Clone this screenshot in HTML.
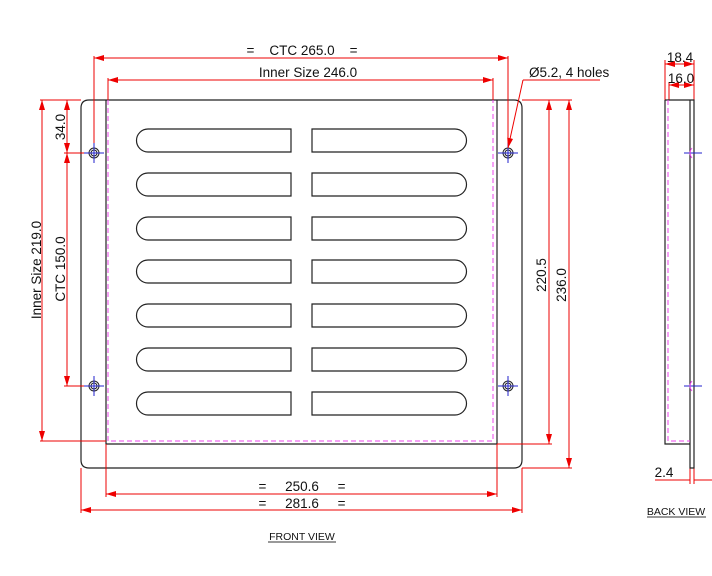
<!DOCTYPE html>
<html><head><meta charset="utf-8"><style>
html,body{margin:0;padding:0;background:#fff}
svg{display:block}
text{font-family:"Liberation Sans",sans-serif;font-size:13.5px;fill:#111}
</style></head><body>
<svg width="712" height="576" viewBox="0 0 712 576" xmlns="http://www.w3.org/2000/svg">
<defs>
<marker id="a" viewBox="0 0 10 6" refX="10" refY="3" markerWidth="10" markerHeight="6" orient="auto-start-reverse" markerUnits="userSpaceOnUse"><path d="M0,0 L10,3 L0,6z" fill="#e00"/></marker>
<g id="hole"><circle r="5" fill="none" stroke="#222" stroke-width="1"/><circle r="3" fill="none" stroke="#222" stroke-width="1"/><path d="M-10,0H10M0,-10V10" stroke="#22c" stroke-width="1"/></g>
<path id="ls" d="M148,0 H291 V23 H148 A11.5,11.5 0 0 1 148,0z" fill="none" stroke="#222" stroke-width="1.2"/>
<path id="rs" d="M312,0 H455 A11.5,11.5 0 0 1 455,23 H312z" fill="none" stroke="#222" stroke-width="1.2"/>
</defs>
<path d="M89,100 H514 Q522,100 522,108 V460 Q522,468 514,468 H89 Q81,468 81,460 V108 Q81,100 89,100z" fill="none" stroke="#222" stroke-width="1.2"/>
<path d="M106,100 V444 H497 V100" fill="none" stroke="#222" stroke-width="1.2"/>
<path d="M108,100 V441 H493 V100" fill="none" stroke="#e4e" stroke-width="1" stroke-dasharray="5,3"/>
<g>
<use href="#ls" y="129"/><use href="#rs" y="129"/>
<use href="#ls" y="173"/><use href="#rs" y="173"/>
<use href="#ls" y="217"/><use href="#rs" y="217"/>
<use href="#ls" y="260"/><use href="#rs" y="260"/>
<use href="#ls" y="304"/><use href="#rs" y="304"/>
<use href="#ls" y="348"/><use href="#rs" y="348"/>
<use href="#ls" y="392"/><use href="#rs" y="392"/>
</g>
<use href="#hole" x="94" y="153"/><use href="#hole" x="508" y="153"/>
<use href="#hole" x="94" y="386"/><use href="#hole" x="508" y="386"/>
<g stroke="#e00" stroke-width="1" fill="none">
<path d="M94,56 V143 M508,56 V143 M108,78 V100 M493,78 V100"/>
<path d="M94,58 H508" marker-start="url(#a)" marker-end="url(#a)"/>
<path d="M108,80 H493" marker-start="url(#a)" marker-end="url(#a)"/>
<path d="M523,80 H600"/><path d="M523,80 L508,148" marker-end="url(#a)"/>
<path d="M40,100 H81 M64,153 H84 M64,386 H84 M40,441 H106"/>
<path d="M42,100 V441" marker-start="url(#a)" marker-end="url(#a)"/>
<path d="M67,100 V153" marker-start="url(#a)" marker-end="url(#a)"/>
<path d="M67,153 V386" marker-start="url(#a)" marker-end="url(#a)"/>
<path d="M522,100 H572 M497,444 H552 M522,468 H572"/>
<path d="M549,100 V444" marker-start="url(#a)" marker-end="url(#a)"/>
<path d="M569,100 V468" marker-start="url(#a)" marker-end="url(#a)"/>
<path d="M106,444 V497 M497,444 V497 M81,468 V513 M522,468 V513"/>
<path d="M106,494 H497" marker-start="url(#a)" marker-end="url(#a)"/>
<path d="M81,510 H522" marker-start="url(#a)" marker-end="url(#a)"/>
<path d="M665,60 V100 M694,60 V100 M669,82 V100"/>
<path d="M665,64 H694" marker-start="url(#a)" marker-end="url(#a)"/>
<path d="M669,85 H694" marker-start="url(#a)" marker-end="url(#a)"/>
<path d="M690,468 V484 M694,468 V484 M655,480 H690 M694,480 H712"/>
</g>
<text x="302" y="55" text-anchor="middle" xml:space="preserve">=    CTC 265.0    =</text>
<text x="308" y="77" text-anchor="middle">Inner Size 246.0</text>
<text x="529" y="77">Ø5.2, 4 holes</text>
<text x="302" y="491" text-anchor="middle" xml:space="preserve">=     250.6     =</text>
<text x="302" y="508" text-anchor="middle" xml:space="preserve">=     281.6     =</text>
<text transform="translate(41,270) rotate(-90)" text-anchor="middle">Inner Size 219.0</text>
<text transform="translate(65,269) rotate(-90)" text-anchor="middle">CTC 150.0</text>
<text transform="translate(65,127) rotate(-90)" text-anchor="middle">34.0</text>
<text transform="translate(546,275) rotate(-90)" text-anchor="middle">220.5</text>
<text transform="translate(566,285) rotate(-90)" text-anchor="middle">236.0</text>
<text x="302" y="540" text-anchor="middle" style="font-size:10.5px">FRONT VIEW</text>
<path d="M268,542 H336" stroke="#333" stroke-width="1"/>
<path d="M665,100 V444 H690 M665,100 H694 V468 H690 V100" fill="none" stroke="#222" stroke-width="1.2"/>
<path d="M668,100 V441 H690" fill="none" stroke="#e4e" stroke-width="1" stroke-dasharray="5,3"/>
<path d="M684,153 H702 M684,386 H702" stroke="#22c" stroke-width="1"/>
<path d="M692,148 Q688,153 692,158 M692,381 Q688,386 692,391" fill="none" stroke="#e4e" stroke-width="1"/>
<text x="680" y="62" text-anchor="middle">18.4</text>
<text x="681" y="83" text-anchor="middle">16.0</text>
<text x="664" y="477" text-anchor="middle">2.4</text>
<text x="676" y="515" text-anchor="middle" style="font-size:10.5px">BACK VIEW</text>
<path d="M647,517 H706" stroke="#333" stroke-width="1"/>
</svg>
</body></html>
